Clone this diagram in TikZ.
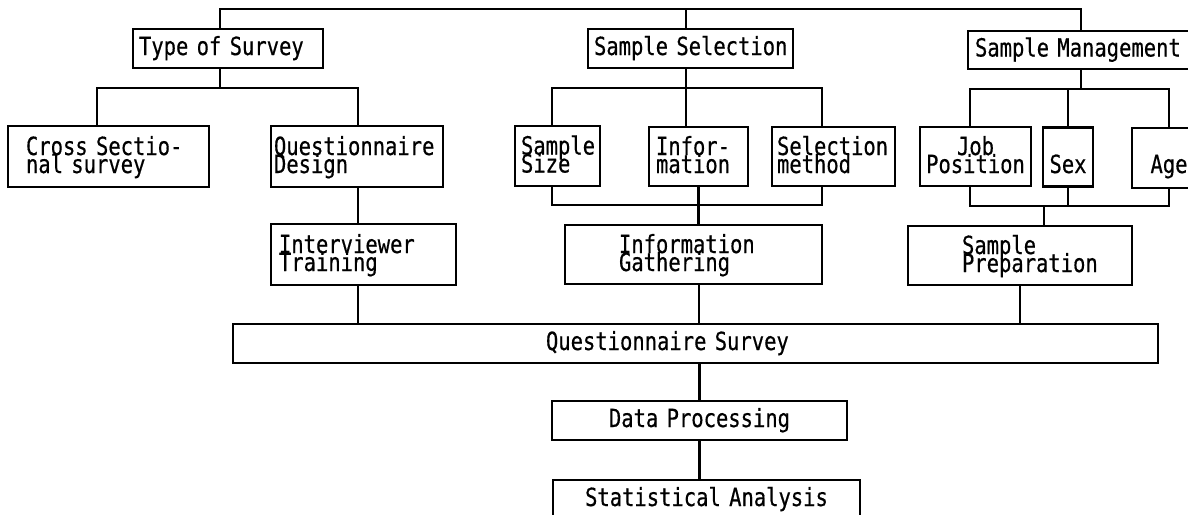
\documentclass[tikz,border=0pt]{standalone}
\usepackage{fontspec}
\newfontfamily\boxfont[FakeStretch=0.82, FakeBold=0.5]{DejaVu Sans Mono}
\newcommand\padby[1]{\hspace*{#1pt}}
\tikzset{
  box/.style={draw, line width=2.4pt, inner sep=0pt, text height=18pt, text depth=5pt,
    font={\boxfont\fontsize{25}{18}\selectfont\lineskiplimit=-30pt}},
  two/.style={text depth=21pt},
  lbox/.style 2 args={box, align=left, text width=#1pt, minimum height=#2pt},
  cbox/.style 2 args={box, align=center, text width=#1pt, minimum height=#2pt},
  link/.style={line width=2.6pt},
}
\begin{document}
\begin{tikzpicture}[x=1pt, y=-1pt]
\useasboundingbox (0,0) rectangle (1188,514);
\fill[white] (0,0) rectangle (1188,514);
\clip (0,0) rectangle (1188,514);

% top level
\node[lbox={190}{39}] (tos) at (228,48.5) {\padby{6}Type of Survey};
\node[lbox={205}{39}] (ss) at (690.5,48.5) {\padby{6}Sample Selection};
\node[lbox={228}{38}] (sm) at (1082,50) {\padby{7}Sample Management};

% second level
\node[lbox={201}{61}, two] (cs) at (108.5,156.5) {\padby{18}Cross Sectio-\\\padby{18}nal survey};
\node[lbox={172}{61}, two] (qd) at (357,156.5) {\padby{3}Questionnaire\\\padby{3}Design};
\node[lbox={85}{60}, two] (sz) at (557.5,156) {\padby{6}Sample\\\padby{6}Size};
\node[lbox={99}{59}, two] (inf) at (698.5,156.5) {\padby{7}Infor-\\\padby{7}mation};
\node[lbox={123}{59}, two] (sel) at (833.5,156.5) {\padby{5}Selection\\\padby{5}method};
\node[cbox={111}{59}, two] (jp) at (975.5,156.5) {Job\\Position};
\node[cbox={50}{59}, text height=32pt, text depth=0pt] (sex) at (1068,157) {Sex};
\node[cbox={74}{60}, text height=30pt, text depth=0pt] (age) at (1169,158) {Age};

% third level
\node[lbox={185}{61}, two] (it) at (363.5,254.5) {\padby{8}Interviewer\\\padby{8}Training};
\node[lbox={257}{59}, two] (ig) at (693.5,254.5) {\padby{54}Information\\\padby{54}Gathering};
\node[lbox={224}{59}, two] (sp) at (1020,255.5) {\padby{54}Sample\\\padby{54}Preparation};

% survey and analysis chain
\node[lbox={925}{39}] (qs) at (695.5,343.5) {\padby{313}Questionnaire Survey};
\node[cbox={295}{39}] (dp) at (699.5,420.5) {Data Processing};
\node[cbox={307}{39}] (sa) at (706.5,499.5) {Statistical Analysis};

% bus levels
\coordinate (bus0) at (0,9);
\coordinate (bus1) at (0,88);
\coordinate (bus1m) at (0,89);
\coordinate (bus2) at (0,205);
\coordinate (bus2m) at (0,206);

% attachment points
\coordinate (tosX) at ([xshift=-8pt]tos.north);
\coordinate (tosY) at ([xshift=-8pt]tos.south);
\coordinate (ssX) at ([xshift=-4.5pt]ss.north);
\coordinate (ssY) at ([xshift=-4.5pt]ss.south);
\coordinate (smX) at ([xshift=-1pt]sm.north);
\coordinate (smY) at ([xshift=-1pt]sm.south);
\coordinate (csX) at ([xshift=-11.5pt]cs.north);
\coordinate (qdX) at ([xshift=1pt]qd.north);
\coordinate (qdZ) at ([xshift=1pt]qd.south);
\coordinate (szX) at ([xshift=-5.5pt]sz.north);
\coordinate (szZ) at ([xshift=-5.5pt]sz.south);
\coordinate (selX) at ([xshift=-11.5pt]sel.north);
\coordinate (selZ) at ([xshift=-11.5pt]sel.south);
\coordinate (jpX) at ([xshift=-5.5pt]jp.north);
\coordinate (jpZ) at ([xshift=-5.5pt]jp.south);
\coordinate (spX) at ([xshift=24pt]sp.north);
\coordinate (itZ) at ([xshift=-5.5pt]it.south);
\coordinate (igZ) at ([xshift=5.5pt]ig.south);

% top bus
\draw[link] (tosX) -- (tosX |- bus0) -- (smX |- bus0) -- (smX);
\draw[link] (ssX |- bus0) -- (ssX);

% type of survey branch
\draw[link] (tosY) -- (tosY |- bus1);
\draw[link] (csX) -- (csX |- bus1) -- (qdX |- bus1) -- (qdX);
\draw[link] (qdZ) -- (qdZ |- it.north);

% sample selection branch
\draw[link] (ssY) -- (ssY |- inf.north);
\draw[link] (szX) -- (szX |- bus1) -- (selX |- bus1) -- (selX);
\draw[link] (szZ) -- (szZ |- bus2) -- (selZ |- bus2) -- (selZ);
\draw[link] (inf.south) -- (inf.south |- ig.north);

% sample management branch
\draw[link] (smY) -- (smY |- bus1m);
\draw[link] (jpX) -- (jpX |- bus1m) -- (age.north |- bus1m) -- (age.north);
\draw[link] (sex.north) -- (sex.north |- bus1m);
\draw[link] (jpZ) -- (jpZ |- bus2m) -- (age.south |- bus2m) -- (age.south);
\draw[link] (sex.south) -- (sex.south |- bus2m);
\draw[link] (spX |- bus2m) -- (spX);

% into the survey
\draw[link] (itZ) -- (itZ |- qs.north);
\draw[link] (igZ) -- (igZ |- qs.north);
\draw[link] (sp.south) -- (sp.south |- qs.north);

% processing chain
\draw[link] (qs.south -| dp.north) -- (dp.north);
\draw[link] (dp.south) -- (dp.south |- sa.north);
\end{tikzpicture}
\end{document}
